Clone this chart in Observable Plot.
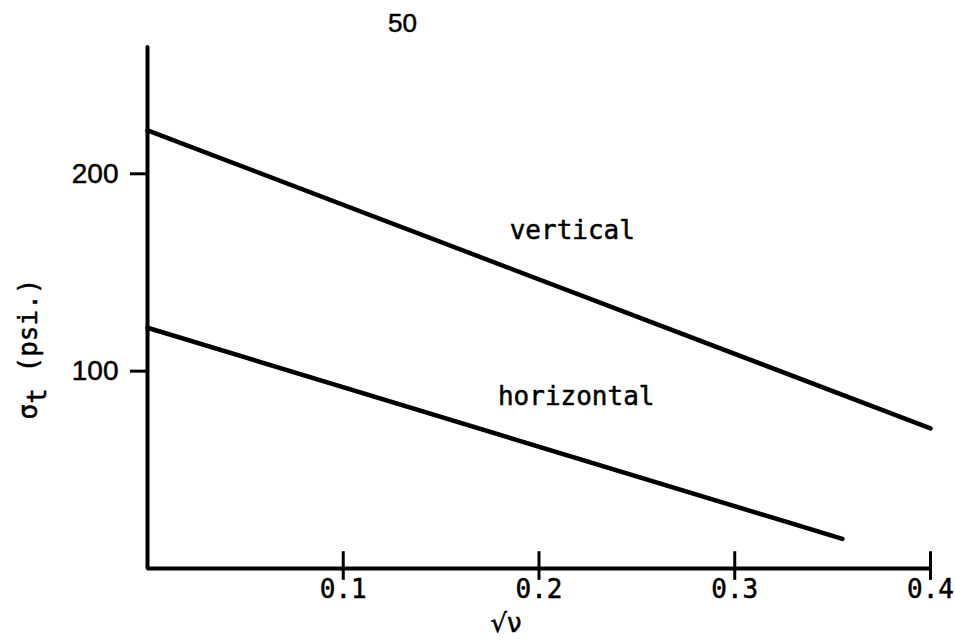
<!DOCTYPE html>
<html>
<head>
<meta charset="utf-8">
<script src="https://cdn.jsdelivr.net/npm/d3@7"></script>
<script src="https://cdn.jsdelivr.net/npm/@observablehq/plot@0.6"></script>
<style>
  html, body { margin: 0; padding: 0; background: #fff; }
  #page { width: 955px; background: #fff; }
  #folio { position: relative; height: 40px; font-family: "Liberation Sans", Arial, sans-serif; font-size: 26px; line-height: 1; color: #000; -webkit-text-stroke: 0.5px #000; }
  #folio span { position: absolute; left: 388px; top: 10px; }
  #chart svg { display: block; }
</style>
</head>
<body>
<div id="page">
  <div id="folio"><span>50</span></div>
  <div id="chart"></div>
</div>
<script>
// Tensile strength σt (psi) against √ν for the two orientations
const seriesNames = ["vertical", "horizontal"];
const sqrtNuStart = [0, 0];
const sqrtNuEnd = [0.4, 0.355];
const sigmaStart = [222, 122];
const sigmaEnd = [71, 15];

// where each curve's name is written
const labelSqrtNu = [0.217, 0.219];
const labelSigma = [171, 87];

// axes
const xTicks = [0.1, 0.2, 0.3, 0.4];
const yTicks = [100, 200];
const yAxisTop = 264;
const xLabel = "√ν";
const yLabel = "σt (psi.)";

const rows = seriesNames.flatMap((s, i) => [
  {series: s, x: sqrtNuStart[i], y: sigmaStart[i]},
  {series: s, x: sqrtNuEnd[i], y: sigmaEnd[i]}
]);

const mono = "'DejaVu Sans Mono', 'Liberation Mono', monospace";
const sans = "'Liberation Sans', Arial, sans-serif";
const ink = {fill: "#000", stroke: "#000", strokeWidth: 0.5};

const chart = Plot.plot({
  width: 955,
  height: 600,
  marginLeft: 147,
  marginRight: 25,
  marginTop: 7,
  marginBottom: 72,
  style: {background: "#fff", color: "#000", overflow: "visible"},
  x: {domain: [0, 0.4]},
  y: {domain: [0, yAxisTop]},
  marks: [
    // frame: vertical axis with a rounded top, horizontal baseline
    Plot.ruleX([0], {y1: 0, y2: yAxisTop, stroke: "#000", strokeWidth: 4, strokeLinecap: "round"}),
    Plot.ruleY([0], {stroke: "#000", strokeWidth: 4}),
    // crossing tick marks on the √ν axis
    Plot.ruleX(xTicks, {x: d => d, y1: -6, y2: 8.5, stroke: "#000", strokeWidth: 3}),
    Plot.axisX(xTicks, {
      tickSize: 0, tickPadding: 11, fontSize: 26, fontFamily: mono,
      tickFormat: d => d.toFixed(1), label: null, textStroke: "#000", textStrokeWidth: 0.5
    }),
    Plot.axisY(yTicks, {
      tickSize: 17, tickPadding: 12, strokeWidth: 3, fontSize: 28, fontFamily: sans,
      tickFormat: d => String(d), label: null, textStroke: "#000", textStrokeWidth: 0.5
    }),
    Plot.line(rows, {x: "x", y: "y", z: "series", stroke: "#000", strokeWidth: 4.5}),
    Plot.text(seriesNames, {
      x: (d, i) => labelSqrtNu[i], y: (d, i) => labelSigma[i], text: d => d,
      fontFamily: mono, fontSize: 26, ...ink
    }),
    Plot.text([xLabel], {
      frameAnchor: "bottom", text: d => d, textAnchor: "middle",
      dx: -33, dy: 63, fontFamily: "'DejaVu Sans', sans-serif", fontSize: 26, ...ink
    }),
    Plot.text([yLabel], {
      frameAnchor: "left", text: d => d, textAnchor: "middle", rotate: -90,
      dx: -119, dy: 41, fontFamily: mono, fontSize: 26, ...ink
    })
  ]
});

// set the "t" of σt as a subscript
d3.select(chart).selectAll("text")
  .filter(function () { return this.textContent === yLabel; })
  .each(function () {
    const t = d3.select(this);
    t.text(null);
    t.append("tspan").text("σ");
    t.append("tspan").attr("dy", "0.35em").text("t");
    t.append("tspan").attr("dy", "-0.35em").text(" (psi.)");
  });

document.getElementById("chart").appendChild(chart);
</script>
</body>
</html>
